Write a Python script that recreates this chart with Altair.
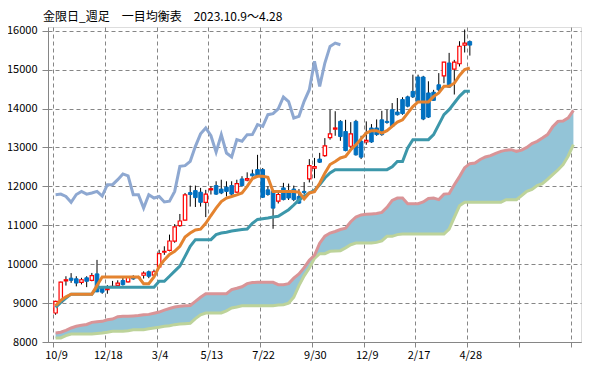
import altair as alt
import pandas as pd

title_text = "金限日_週足　一目均衡表　2023.10.9～4.28"
x_labels = ["10/9", "12/18", "3/4", "5/13", "7/22", "9/30", "12/9", "2/17", "4/28", "", ""]
y_ticks = [8000, 9000, 10000, 11000, 12000, 13000, 14000, 15000, 16000]

opens = [8745, 9020, 9570, 9640, 9625, 9530, 9650, 9585, 9750, 9390,
         9345, 9420, 9455, 9580, 9545, 9670, 9655, 9715, 9805, 9720,
         9930, 10310, 10355, 10590, 10990, 11130, 11840, 11890, 11850, 11590,
         11910, 12020, 11930, 11980, 12020, 11850, 12190, 12160, 12320, 12430,
         12430, 11910, 11870, 11620, 11960, 11830, 11930, 11740, 11870, 12190,
         12470, 12700, 12790, 13250, 13470, 13670, 13410, 13030, 13670, 13160,
         13140, 13500, 13500, 13710, 13670, 13970, 13910, 14230, 14300, 14440,
         14810, 14810, 14400, 14420, 14610, 14840, 15170, 15010, 15150, 15630,
         15720]
highs = [9060, 9550, 9690, 9770, 9690, 9650, 9690, 9775, 10110, 9400,
         9460, 9570, 9585, 9645, 9680, 9715, 9700, 9815, 9835, 9860,
         10370, 10460, 10760, 11030, 11290, 11830, 12020, 12020, 11960, 11910,
         12000, 12130, 12170, 12130, 12130, 12170, 12260, 12360, 12430, 12810,
         12470, 12000, 11900, 11850, 12090, 12070, 12020, 11930, 12110, 12700,
         12730, 12860, 13240, 13970, 13930, 13700, 13710, 13650, 13710, 13300,
         13670, 13600, 13720, 13940, 13970, 14140, 14270, 14290, 14330, 14870,
         14870, 14840, 14700, 14480, 14910, 15200, 15430, 15250, 15730, 16030,
         15750]
lows = [8700, 9000, 9450, 9520, 9430, 9480, 9410, 9560, 9280, 9240,
        9240, 9400, 9430, 9450, 9530, 9600, 9640, 9630, 9640, 9700,
        9900, 10240, 10330, 10550, 10960, 11120, 11480, 11470, 11480, 11210,
        11790, 11780, 11800, 11740, 11740, 11830, 11990, 12130, 12250, 12240,
        11700, 11760, 10910, 11560, 11640, 11650, 11620, 11550, 11790, 12100,
        12210, 12600, 12760, 13200, 13300, 13170, 12900, 13000, 12790, 12700,
        13070, 13120, 13300, 13300, 13610, 13520, 13820, 13840, 14030, 14270,
        14150, 13700, 13760, 14200, 14440, 14650, 14530, 14360, 15080, 15440,
        15360]
closes = [9045, 9540, 9600, 9585, 9515, 9600, 9560, 9705, 9290, 9280,
          9375, 9430, 9515, 9475, 9660, 9620, 9665, 9770, 9690, 9805,
          10270, 10330, 10595, 10960, 11110, 11780, 11790, 11710, 11590, 11800,
          11940, 11800, 11830, 11870, 11800, 12070, 12020, 12200, 12270, 12270,
          11720, 11790, 11440, 11790, 11660, 11700, 11660, 11570, 11840, 12530,
          12510, 12620, 13040, 13350, 13500, 13280, 12920, 13350, 12810, 12750,
          13180, 13140, 13330, 13330, 13640, 13540, 13840, 13870, 14060, 14300,
          14180, 13730, 13780, 14210, 14480, 15190, 14550, 15190, 15600, 15680,
          15630]

tenkan = [8930, 9070, 9160, 9230, 9230, 9230, 9230, 9230, 9450, 9670,
          9670, 9670, 9670, 9670, 9670, 9670, 9670, 9500, 9500, 9670,
          9940, 10110, 10250, 10330, 10460, 10700, 10800, 10880, 10900, 11050,
          11250, 11440, 11610, 11700, 11740, 11780, 11830, 12000, 12200, 12257,
          12257, 12230, 11870, 11870, 11870, 11870, 11870, 11850, 11680, 11830,
          11860, 12080, 12340, 12560, 12640, 12730, 12770, 12940, 13070, 13220,
          13370, 13430, 13430, 13370, 13430, 13540, 13650, 13710, 13880, 14050,
          14170, 14170, 14170, 14310, 14400, 14570, 14570, 14650, 14850, 15000,
          15040]
kijun = [8890, 9020, 9130, 9230, 9230, 9230, 9230, 9230, 9400, 9410,
         9410, 9410, 9410, 9410, 9410, 9410, 9410, 9410, 9410, 9410,
         9560, 9560, 9690, 9820, 9950, 10200, 10460, 10630, 10630, 10630,
         10630, 10760, 10800, 10820, 10850, 10870, 10890, 10904, 11050, 11150,
         11170, 11187, 11210, 11230, 11315, 11400, 11520, 11650, 11743, 11829,
         11900, 12043, 12214, 12343, 12428, 12428, 12428, 12428, 12428, 12428,
         12428, 12428, 12428, 12428, 12428, 12500, 12640, 12640, 12985, 13199,
         13199, 13199, 13199, 13328, 13585, 13842, 13970, 14141, 14313, 14441,
         14441]
chikou = [11786, 11800, 11740, 11590, 11790, 11870, 11800, 11830, 11870, 11750,
          12043, 12043, 12171, 12320, 12270, 11786, 11786, 11443, 11786, 11700,
          11740, 11600, 11620, 11871, 12514, 12531, 12643, 13028, 13350, 13500,
          13300, 12880, 13328, 12857, 12754, 13200, 13160, 13328, 13330, 13585,
          13542, 13842, 13867, 13990, 14296, 14180, 13756, 13799, 14184, 14484,
          15212, 14570, 15169, 15597, 15683, 15640]
span_a = [8231, 8250, 8300, 8360, 8403, 8430, 8450, 8505, 8520, 8531,
          8570, 8591, 8650, 8660, 8660, 8670, 8680, 8700, 8710, 8740,
          8770, 8820, 8860, 8900, 8920, 8934, 8940, 9045, 9150, 9242,
          9242, 9242, 9242, 9242, 9345, 9380, 9420, 9500, 9530, 9533,
          9533, 9533, 9533, 9473, 9473, 9500, 9640, 9750, 9910, 10100,
          10230, 10540, 10720, 10800, 10840, 10890, 10925, 11090, 11212, 11265,
          11280, 11289, 11300, 11330, 11460, 11640, 11700, 11700, 11555, 11555,
          11555, 11600, 11690, 11700, 11660, 11800, 11812, 12043, 12250, 12480,
          12583, 12600, 12690, 12754, 12790, 12850, 12900, 12930, 12942, 12900,
          12930, 13000, 13100, 13156, 13240, 13330, 13530, 13670, 13680, 13760,
          13950]
span_b = [8103, 8103, 8163, 8206, 8206, 8206, 8206, 8206, 8220, 8231,
          8250, 8274, 8274, 8274, 8290, 8317, 8317, 8317, 8340, 8360,
          8380, 8403, 8420, 8446, 8460, 8471, 8480, 8600, 8700, 8745,
          8745, 8745, 8745, 8800, 8874, 8900, 8930, 8934, 8934, 8934,
          8934, 8934, 8934, 8950, 8960, 9000, 9150, 9450, 9700, 9900,
          10150, 10270, 10270, 10330, 10340, 10347, 10420, 10500, 10544, 10544,
          10544, 10544, 10560, 10600, 10716, 10716, 10760, 10775, 10775, 10775,
          10775, 10775, 10775, 10775, 10775, 10775, 10900, 11200, 11500, 11589,
          11589, 11589, 11589, 11589, 11589, 11589, 11589, 11657, 11657, 11657,
          11760, 11870, 11920, 12020, 12068, 12180, 12300, 12420, 12557, 12780,
          13071]

n_cat = len(span_a)  # categories on the axis

candles = pd.DataFrame({
    "x": [i + 0.5 for i in range(len(closes))],
    "open": opens, "high": highs, "low": lows, "close": closes,
})
candles["up"] = candles["close"] >= candles["open"]
lines = pd.DataFrame({"x": [i + 0.5 for i in range(len(tenkan))], "tenkan": tenkan, "kijun": kijun})
chik = pd.DataFrame({"x": [i + 0.5 for i in range(len(chikou))], "chikou": chikou})
cloud = pd.DataFrame({"x": [i + 0.5 for i in range(n_cat)], "a": span_a, "b": span_b})

FONT = "Noto Sans CJK JP"
GRID = "#868686"

label_js = "[" + ",".join("'" + s + "'" for s in x_labels) + "][round(datum.value/10)]"
x_axis = alt.Axis(values=list(range(0, 101, 10)), labelExpr=label_js, grid=True,
                  gridDash=[4, 3], gridColor=GRID, domainColor=GRID, tickColor=GRID,
                  tickSize=5, labelPadding=2, labelOffset=3, labelFont=FONT,
                  labelFontSize=11, labelColor="#000000", title=None, labelAngle=0,
                  labelFlush=False, labelOverlap=False)
y_axis = alt.Axis(values=y_ticks, format="d", grid=True, gridDash=[4, 3], gridColor=GRID,
                  domainColor=GRID, tickColor=GRID, tickSize=6, labelPadding=5,
                  labelFont=FONT, labelFontSize=11, labelColor="#000000", title=None)
x_scale = alt.Scale(domain=[0, n_cat], nice=False, zero=False)
y_scale = alt.Scale(domain=[8000, 16095], nice=False, zero=False)


def X():
    return alt.X("x:Q", scale=x_scale, axis=x_axis)


def Y(field):
    return alt.Y(field + ":Q", scale=y_scale, axis=y_axis)


cloud_fill = alt.Chart(cloud).mark_area(color="#93C4D7", opacity=1).encode(
    x=X(), y=Y("a"), y2="b:Q")
span_b_line = alt.Chart(cloud).mark_line(color="#BDD39A", strokeWidth=3).encode(x=X(), y=Y("b"))
span_a_line = alt.Chart(cloud).mark_line(color="#D99497", strokeWidth=3).encode(x=X(), y=Y("a"))
chikou_line = alt.Chart(chik).mark_line(color="#8EA8D1", strokeWidth=3).encode(x=X(), y=Y("chikou"))
wicks = alt.Chart(candles).mark_rule(color="#000000", strokeWidth=1).encode(
    x=X(), y=Y("low"), y2="high:Q")
up_bodies = alt.Chart(candles).transform_filter("datum.up").mark_bar(
    size=3.4, fill="#FFFFFF", stroke="#FF0000", strokeWidth=1.2).encode(
    x=X(), y=Y("open"), y2="close:Q")
down_bodies = alt.Chart(candles).transform_filter("!datum.up").mark_bar(
    size=3.6, fill="#0070C0", stroke="#0070C0", strokeWidth=1).encode(
    x=X(), y=Y("open"), y2="close:Q")
kijun_line = alt.Chart(lines).mark_line(color="#3C97AA", strokeWidth=3).encode(x=X(), y=Y("kijun"))
tenkan_line = alt.Chart(lines).mark_line(color="#E4832F", strokeWidth=3).encode(x=X(), y=Y("tenkan"))
title = alt.Chart(pd.DataFrame({"t": [title_text]})).mark_text(
    align="left", baseline="middle", font=FONT, fontSize=12, color="#000000").encode(
    text="t:N", x=alt.value(-5), y=alt.value(-10))

chart = alt.layer(
    cloud_fill, span_b_line, span_a_line, chikou_line, wicks, up_bodies, down_bodies,
    kijun_line, tenkan_line, title
).properties(
    width=533, height=315,
    padding={"left": 40, "top": 19, "right": 2, "bottom": 19},
    autosize=alt.AutoSizeParams(type="none"),
).configure_view(stroke=GRID, strokeWidth=1).configure(background="#FFFFFF")

chart.save("out.html", embed_options={"renderer": "svg", "actions": False})
